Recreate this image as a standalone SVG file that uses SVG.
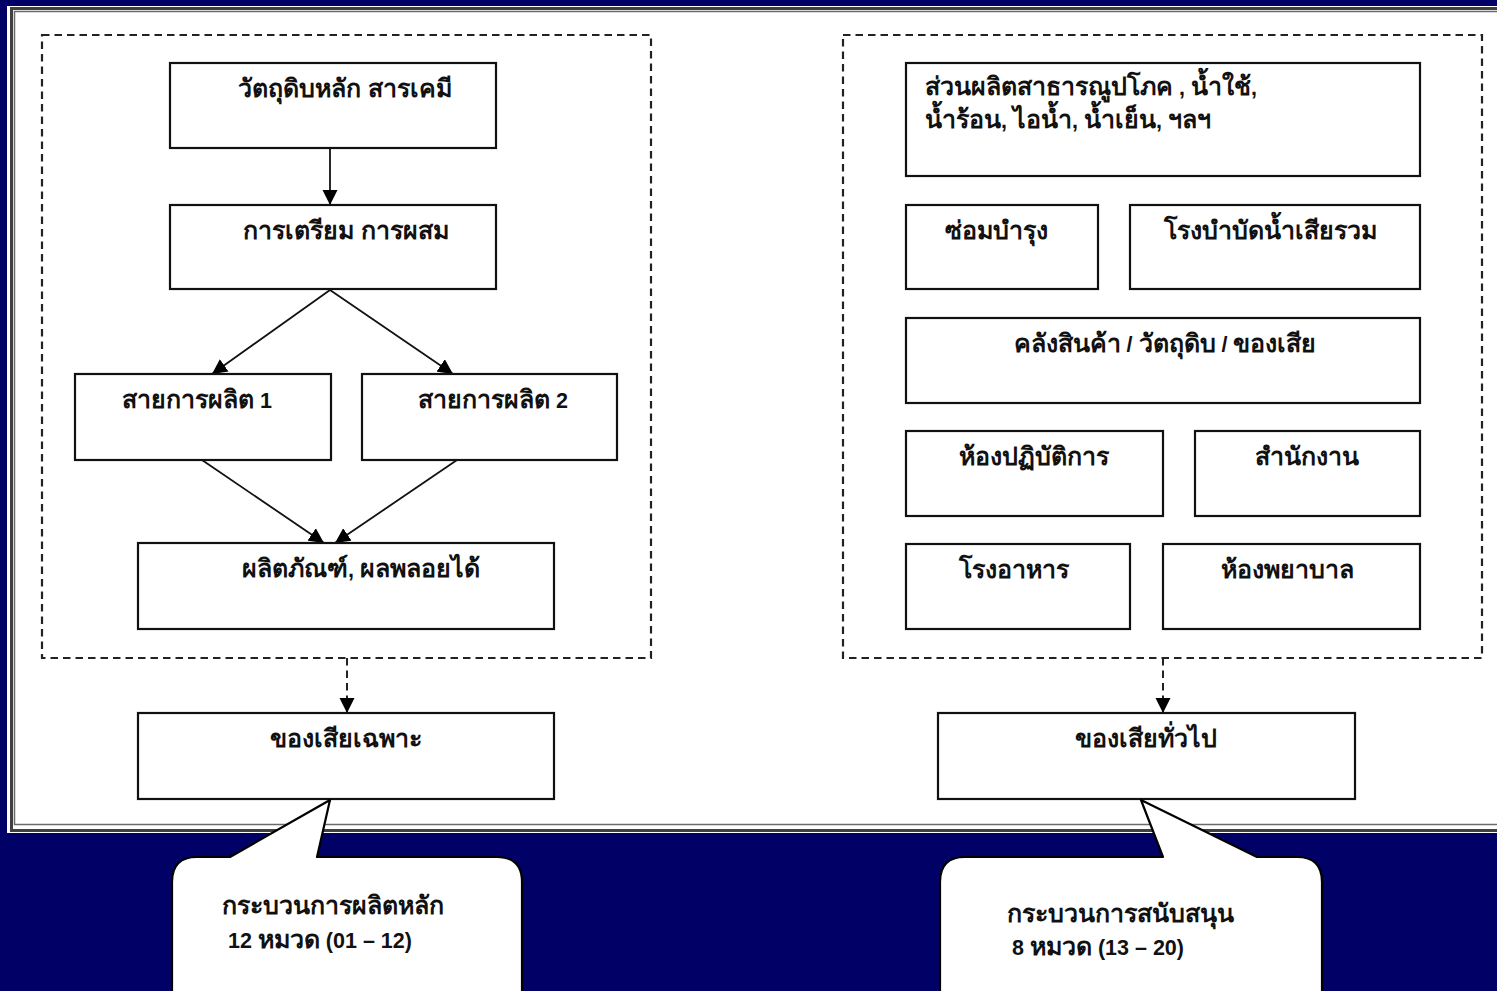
<svg xmlns="http://www.w3.org/2000/svg" width="1497" height="991" viewBox="0 0 1497 991">
<style>
.bg{fill:#000066}
.box{fill:#fff;stroke:#111;stroke-width:2.2}
.dbox{fill:none;stroke:#222;stroke-width:2.2;stroke-dasharray:7.5 5}
.con{fill:none;stroke:#111;stroke-width:1.8}
.dcon{fill:none;stroke:#222;stroke-width:2;stroke-dasharray:7.5 5}
.call{fill:#fff;stroke:#000;stroke-width:2.2;stroke-linejoin:round}
text{font-family:"Liberation Sans","Noto Sans","DejaVu Sans",sans-serif;font-weight:bold;font-size:25px;fill:#111}
.l{font-size:21.5px}
.c{text-anchor:middle}
</style>
<defs>
<marker id="ah" markerUnits="userSpaceOnUse" markerWidth="16" markerHeight="16" refX="15" refY="8" orient="auto">
<path d="M0,0.5 L15,8 L0,15.5 z" fill="#000" stroke="none"/>
</marker>
</defs>
<rect class="bg" x="0" y="0" width="1497" height="991"/>
<g id="panel">
<rect x="7" y="6" width="1500" height="827" fill="#fff"/>
<rect x="11.5" y="8.5" width="1500" height="822" fill="none" stroke="#404040" stroke-width="3"/>
<rect x="14.5" y="11.5" width="1500" height="813" fill="none" stroke="#6a6a6a" stroke-width="1.5"/>
</g>
<g id="group-main"><rect class="dbox" x="42" y="35" width="609" height="623"/></g>
<g id="group-support"><rect class="dbox" x="843" y="35" width="639" height="623"/></g>
<g id="connectors">
<line class="con" x1="330" y1="148" x2="330" y2="205" marker-end="url(#ah)"/>
<line class="con" x1="330" y1="290" x2="212" y2="374" marker-end="url(#ah)"/>
<line class="con" x1="330" y1="290" x2="453" y2="374" marker-end="url(#ah)"/>
<line class="con" x1="202" y1="460" x2="324" y2="543" marker-end="url(#ah)"/>
<line class="con" x1="457" y1="460" x2="335" y2="543" marker-end="url(#ah)"/>
<line class="dcon" x1="347" y1="658" x2="347" y2="713" marker-end="url(#ah)"/>
<line class="dcon" x1="1163" y1="658" x2="1163" y2="713" marker-end="url(#ah)"/>
</g>
<g id="n-raw"><rect class="box" x="170" y="63" width="326" height="85"/><text class="c" x="345" y="97">วัตถุดิบหลัก สารเคมี</text></g>
<g id="n-prep"><rect class="box" x="170" y="205" width="326" height="84"/><text class="c" x="346" y="239">การเตรียม การผสม</text></g>
<g id="n-line1"><rect class="box" x="75" y="374" width="256" height="86"/><text class="c" x="197" y="408">สายการผลิต<tspan class="l"> 1</tspan></text></g>
<g id="n-line2"><rect class="box" x="362" y="374" width="255" height="86"/><text class="c" x="493" y="408">สายการผลิต<tspan class="l"> 2</tspan></text></g>
<g id="n-product"><rect class="box" x="138" y="543" width="416" height="86"/><text class="c" x="361" y="577">ผลิตภัณฑ์<tspan class="l">, </tspan>ผลพลอยได้</text></g>
<g id="n-specwaste"><rect class="box" x="138" y="713" width="416" height="86"/><text class="c" x="346" y="747">ของเสียเฉพาะ</text></g>
<g id="n-utility"><rect class="box" x="906" y="63" width="514" height="113"/><text x="925" y="95">ส่วนผลิตสาธารณูปโภค<tspan class="l"> , </tspan>น้ำใช้<tspan class="l">,</tspan></text><text x="925" y="128">น้ำร้อน<tspan class="l">, </tspan>ไอน้ำ<tspan class="l">, </tspan>น้ำเย็น<tspan class="l">, </tspan>ฯลฯ</text></g>
<g id="n-maint"><rect class="box" x="906" y="205" width="192" height="84"/><text class="c" x="996" y="239">ซ่อมบำรุง</text></g>
<g id="n-wwt"><rect class="box" x="1130" y="205" width="290" height="84"/><text class="c" x="1270" y="239">โรงบำบัดน้ำเสียรวม</text></g>
<g id="n-store"><rect class="box" x="906" y="318" width="514" height="85"/><text class="c" x="1165" y="352">คลังสินค้า<tspan class="l"> / </tspan>วัตถุดิบ<tspan class="l"> / </tspan>ของเสีย</text></g>
<g id="n-lab"><rect class="box" x="906" y="431" width="257" height="85"/><text class="c" x="1034" y="465">ห้องปฏิบัติการ</text></g>
<g id="n-office"><rect class="box" x="1195" y="431" width="225" height="85"/><text class="c" x="1307" y="465">สำนักงาน</text></g>
<g id="n-canteen"><rect class="box" x="906" y="544" width="224" height="85"/><text class="c" x="1014" y="578">โรงอาหาร</text></g>
<g id="n-clinic"><rect class="box" x="1163" y="544" width="257" height="85"/><text class="c" x="1287" y="578">ห้องพยาบาล</text></g>
<g id="n-genwaste"><rect class="box" x="938" y="713" width="417" height="86"/><text class="c" x="1146" y="747">ของเสียทั่วไป</text></g>
<g id="callout-main">
<path class="call" d="M230,857 L330,800 L317,857 L497,857 Q522,857 522,882 L522,1010 L172,1010 L172,882 Q172,857 197,857 Z"/>
<text x="222" y="914">กระบวนการผลิตหลัก</text>
<text x="228" y="948"><tspan class="l">12 </tspan>หมวด<tspan class="l"> (01 – 12)</tspan></text>
</g>
<g id="callout-support">
<path class="call" d="M1163,857 L1141,800 L1257,857 L1297,857 Q1322,857 1322,882 L1322,1010 L940,1010 L940,882 Q940,857 965,857 Z"/>
<text x="1007" y="922">กระบวนการสนับสนุน</text>
<text x="1012" y="955"><tspan class="l">8 </tspan>หมวด<tspan class="l"> (13 – 20)</tspan></text>
</g>
</svg>
